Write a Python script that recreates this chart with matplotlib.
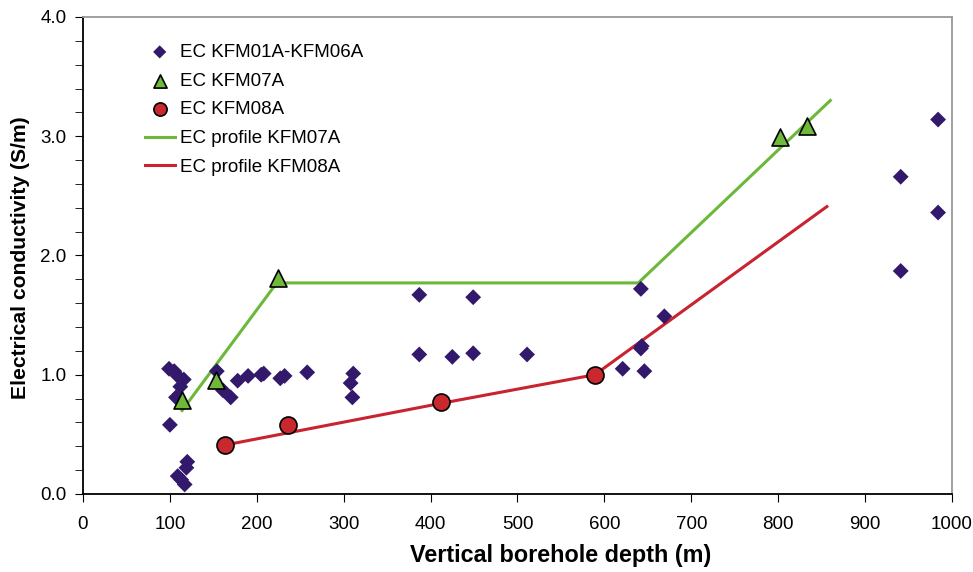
import matplotlib
matplotlib.use("Agg")
import matplotlib.pyplot as plt
from matplotlib.ticker import MultipleLocator, FormatStrFormatter

plt.rcParams['font.family'] = ['Liberation Sans', 'DejaVu Sans']

# EC KFM01A-KFM06A (diamonds)
kfm01_06_depth = [99, 105, 109, 116, 112, 107, 100, 120, 119, 109, 113, 117,
                  154, 161, 170, 178, 190, 205, 208, 227, 232, 258,
                  308, 311, 310, 387, 449, 387, 425, 449, 511,
                  642, 669, 642, 643, 621, 646, 941, 984, 984, 941]
kfm01_06_ec = [1.05, 1.03, 0.99, 0.96, 0.90, 0.81, 0.58, 0.27, 0.22, 0.15, 0.12, 0.08,
               1.03, 0.87, 0.81, 0.95, 0.99, 1.00, 1.01, 0.97, 0.99, 1.02,
               0.93, 1.01, 0.81, 1.67, 1.65, 1.17, 1.15, 1.18, 1.17,
               1.72, 1.49, 1.22, 1.24, 1.05, 1.03, 2.66, 3.14, 2.36, 1.87]

# EC KFM07A (triangles)
kfm07_depth = [114, 153, 224, 802, 833]
kfm07_ec = [0.79, 0.96, 1.81, 2.99, 3.09]

# EC KFM08A (circles)
kfm08_depth = [163, 236, 412, 589]
kfm08_ec = [0.41, 0.58, 0.77, 1.00]

# EC profiles
prof07_depth = [114, 223, 639, 860]
prof07_ec = [0.70, 1.77, 1.77, 3.30]
prof08_depth = [163, 412, 589, 856]
prof08_ec = [0.41, 0.76, 1.00, 2.41]

fig = plt.figure(figsize=(9.73, 5.72), dpi=100)
ax = fig.add_axes([0.0853, 0.1364, 0.8931, 0.8339])

green = '#6cb83a'
red = '#c8232f'
purple = '#33196b'

ax.plot(prof07_depth, prof07_ec, color=green, lw=2.2, zorder=2, label='EC profile KFM07A')
ax.plot(prof08_depth, prof08_ec, color=red, lw=2.2, zorder=2, label='EC profile KFM08A')
ax.scatter(kfm01_06_depth, kfm01_06_ec, marker='D', s=65, color=purple,
           edgecolors='none', zorder=3, label='EC KFM01A-KFM06A')
ax.scatter(kfm07_depth, kfm07_ec, marker='^', s=150, color='#6fb83c',
           edgecolors='black', linewidths=1.2, zorder=4, label='EC KFM07A')
ax.scatter(kfm08_depth, kfm08_ec, marker='o', s=150, color='#c8282e',
           edgecolors='black', linewidths=1.2, zorder=4, label='EC KFM08A')

handles, labels = ax.get_legend_handles_labels()
order = [labels.index(l) for l in ['EC KFM01A-KFM06A', 'EC KFM07A', 'EC KFM08A',
                                    'EC profile KFM07A', 'EC profile KFM08A']]
leg = ax.legend([handles[i] for i in order], [labels[i] for i in order],
                loc='upper left', bbox_to_anchor=(0.071, 0.944), frameon=False,
                borderaxespad=0, borderpad=0,
                fontsize=13.5, handlelength=1.6, handletextpad=0.3, labelspacing=0.62,
                scatterpoints=1)
leg.legend_handles[0].set_sizes([45])
leg.legend_handles[1].set_sizes([90])
leg.legend_handles[2].set_sizes([90])

ax.set_xlim(0, 1000)
ax.set_ylim(0, 4.0)
ax.xaxis.set_major_locator(MultipleLocator(100))
ax.yaxis.set_major_locator(MultipleLocator(1.0))
ax.yaxis.set_minor_locator(MultipleLocator(0.2))
ax.yaxis.set_major_formatter(FormatStrFormatter('%.1f'))
ax.tick_params(axis='both', which='both', direction='out', labelsize=13.5, color='black')
ax.tick_params(axis='x', which='major', length=6, pad=10)
ax.tick_params(axis='y', which='major', length=6, pad=6)
ax.tick_params(axis='y', which='minor', length=6)

for s in ['top', 'right']:
    ax.spines[s].set_color('#999999')
    ax.spines[s].set_linewidth(1.3)
for s in ['left', 'bottom']:
    ax.spines[s].set_color('black')
    ax.spines[s].set_linewidth(1.3)

ax.set_xlabel('Vertical borehole depth (m)', fontsize=16.8, fontweight='bold')
ax.xaxis.set_label_coords(0.55, -0.105)
ax.set_ylabel('Electrical conductivity (S/m)', fontsize=15.2, fontweight='bold')
ax.yaxis.set_label_coords(-0.061, 0.496)

fig.savefig('out.png', dpi=100)
